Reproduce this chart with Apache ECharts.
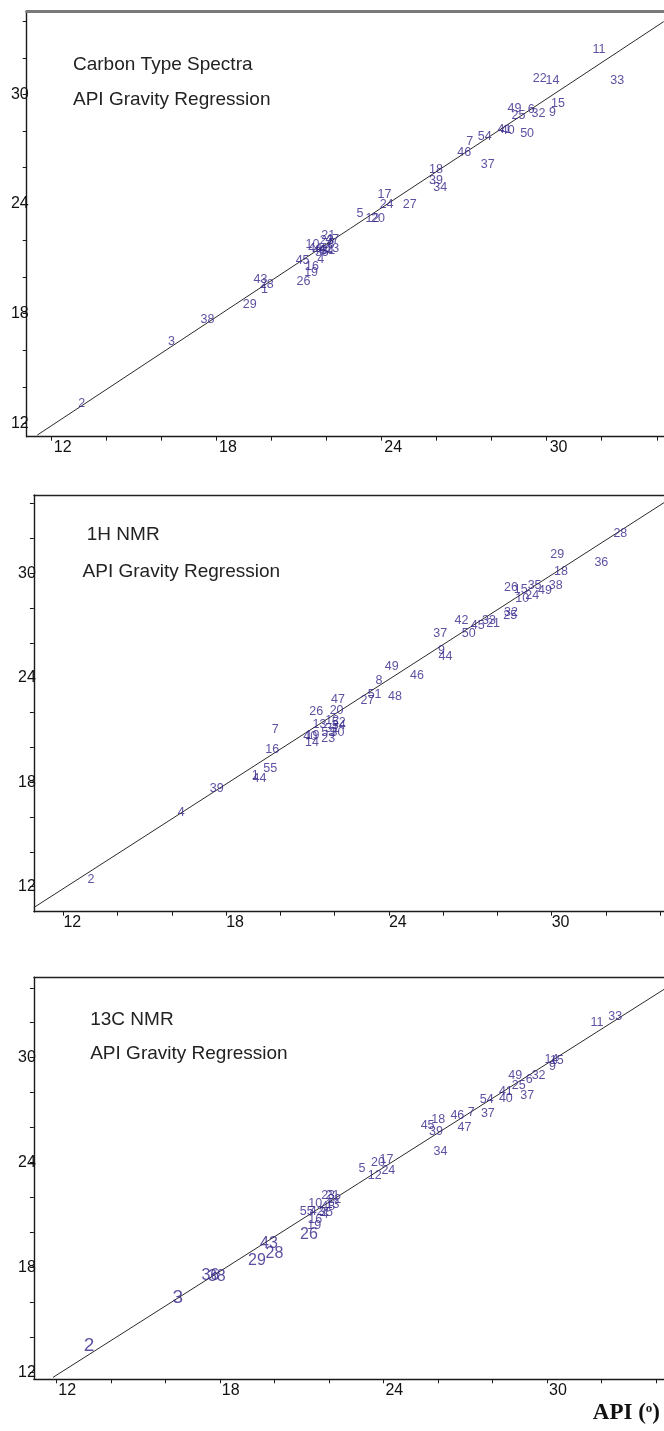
<!DOCTYPE html>
<html>
<head>
<meta charset="utf-8">
<script src="https://cdn.jsdelivr.net/npm/echarts@6/dist/echarts.min.js"></script>
<style>
html,body{margin:0;padding:0;background:#fff;}
#c{width:664px;height:1431px;}
</style>
</head>
<body>
<div id="c"></div>
<script>
// ---------- data ----------
const xTicks = [12,14,16,18,20,22,24,26,28,30,32,34];
const yTicks = [12,14,16,18,20,22,24,26,28,30,32,34];
const tickLabels = [12,18,24,30];

// Panel 1: Carbon Type Spectra
const p1Ids = ['11','22','14','33','15','49','6','25','32','9','41','40','50','7','54','46','37','18','39','34','17','24','27','5','12','20','21','10','23','47','44','48','42','13','35','31','8','45','4','16','19','26','43','28','1','29','38','3','2'];
const p1X = [31.90,29.75,30.21,32.56,30.41,28.83,29.44,28.98,29.70,30.21,28.47,28.59,29.29,27.21,27.75,27.01,27.86,25.98,25.98,26.14,24.11,24.19,25.03,23.22,23.68,23.88,22.07,21.50,22.02,22.22,21.60,21.76,21.99,22.22,21.84,22.07,22.17,21.14,21.80,21.48,21.45,21.17,19.61,19.84,19.76,19.22,17.69,16.38,13.12];
const p1Y = [32.43,30.84,30.78,30.78,29.47,29.22,29.18,28.83,28.96,29.00,28.05,28.00,27.87,27.41,27.68,26.81,26.17,25.86,25.28,24.89,24.53,23.98,23.98,23.49,23.18,23.18,22.30,21.79,21.98,22.03,21.58,21.48,21.52,21.58,21.36,21.45,21.76,20.88,20.97,20.57,20.24,19.75,19.88,19.62,19.30,18.48,17.66,16.47,13.06];
const p1LineX = [11.51, 34.25];
const p1LineY = [11.36, 33.98];

// Panel 2: 1H NMR
const p2Ids = ['28','29','36','18','26','15','35','38','49','24','10','32','25','42','33','21','45','37','50','9','44','49','46','8','51','27','48','47','26','20','7','13','12','52','34','31','53','30','23','40','19','14','16','55','1','44','39','4','2'];
const p2X = [32.53,30.20,31.83,30.34,28.50,28.86,29.37,30.15,29.75,29.28,28.91,28.50,28.47,26.67,27.69,27.84,27.27,25.89,26.94,25.94,26.08,24.10,25.03,23.63,23.47,23.21,24.22,22.12,21.32,22.07,19.81,21.44,21.91,22.15,22.15,21.91,21.76,22.10,21.76,21.10,21.18,21.16,19.70,19.62,19.07,19.23,17.65,16.34,13.01];
const p2Y = [32.30,31.07,30.61,30.10,29.18,29.04,29.31,29.27,29.00,28.72,28.56,27.76,27.55,27.28,27.28,27.09,26.99,26.52,26.52,25.56,25.21,24.64,24.12,23.83,23.05,22.69,22.92,22.76,22.05,22.11,21.04,21.33,21.54,21.44,21.23,21.10,20.87,20.85,20.52,20.62,20.66,20.29,19.89,18.80,18.36,18.23,17.65,16.27,12.39];
const p2LineX = [10.91, 34.14];
const p2LineY = [10.80, 34.06];

// Panel 3: 13C NMR
const p3Ids = ['33','11','14','15','9','49','32','6','25','41','40','37','54','7','37','46','18','47','45','39','34','17','20','24','5','12','23','21','10','22','13','48','55','42','35','4','16','19','26','43','28','29','36','38','3','2'];
const p3X = [32.50,31.83,30.16,30.36,30.20,28.83,29.69,29.35,28.96,28.49,28.49,29.27,27.79,27.22,27.83,26.71,26.01,26.97,25.62,25.93,26.09,24.11,23.80,24.18,23.21,23.68,21.97,22.13,21.50,22.20,22.13,21.97,21.19,21.55,21.89,21.86,21.50,21.46,21.27,19.80,20.00,19.36,17.65,17.89,16.46,13.20];
const p3Y = [32.38,32.02,29.92,29.81,29.52,28.97,28.97,28.76,28.38,28.09,27.67,27.86,27.58,26.85,26.78,26.68,26.49,26.00,26.09,25.77,24.62,24.15,24.01,23.54,23.67,23.25,22.14,22.14,21.67,21.86,21.61,21.48,21.19,21.19,21.13,21.00,20.75,20.39,19.86,19.38,18.81,18.42,17.51,17.47,16.29,13.50];
const p3Big = ['26','43','28','29','36','38'];
const p3Huge = ['3','2'];
const p3LineX = [11.88, 34.29];
const p3LineY = [11.71, 33.91];

// ---------- layout ----------
const FONT = 'Liberation Sans, Arial, Helvetica, sans-serif';
const labelColor = '#33258a';
const panels = [
  {left:26.7, top:11,    width:637.3, height:425.7, xmin:11.125, xmax:34.26, ymin:11.27, ymax:34.56, topColor:'#7a7a7a', topWidth:3, xPad:3},
  {left:33.9, top:495,   width:630.1, height:416.7, xmin:10.91,  xmax:34.14, ymin:10.56, ymax:34.50, topColor:'#222', topWidth:1.3, xPad:0},
  {left:33.9, top:977.3, width:630.1, height:402,   xmin:11.18,  xmax:34.29, ymin:11.60, ymax:34.60, topColor:'#222', topWidth:1.3, xPad:2}
];

const grids = [], xAxes = [], yAxes = [];
panels.forEach((p, i) => {
  grids.push({left:p.left, top:p.top, width:p.width, height:p.height, containLabel:false});
  xAxes.push({
    type:'value', gridIndex:i, min:p.xmin, max:p.xmax, position:'bottom',
    axisLine:{show:true, onZero:false, lineStyle:{color:'#1a1a1a', width:1.4}},
    axisTick:{show:true, length:4, customValues:xTicks, lineStyle:{color:'#1a1a1a', width:1}},
    axisLabel:{show:true, customValues:tickLabels, align:'left', margin:3, padding:[0,0,0,p.xPad],
      fontFamily:FONT, fontSize:16, color:'#111'},
    splitLine:{show:false}
  });
  xAxes.push({
    type:'value', gridIndex:i, min:p.xmin, max:p.xmax, position:'top',
    axisLine:{show:true, onZero:false, lineStyle:{color:p.topColor, width:p.topWidth}},
    axisTick:{show:false}, axisLabel:{show:false}, splitLine:{show:false}
  });
  yAxes.push({
    type:'value', gridIndex:i, min:p.ymin, max:p.ymax,
    axisLine:{show:true, onZero:false, lineStyle:{color:'#1a1a1a', width:1.4}},
    axisTick:{show:true, length:4, customValues:yTicks, lineStyle:{color:'#1a1a1a', width:1}},
    axisLabel:{show:true, customValues:tickLabels, margin:-2,
      fontFamily:FONT, fontSize:16, color:'#111'},
    splitLine:{show:false}
  });
});

function pts(ids, xs, ys, sizeFn) {
  return ids.map((id, k) => {
    const o = {name:id, value:[xs[k], ys[k]]};
    const fs = sizeFn ? sizeFn(id) : null;
    if (fs) o.label = {fontSize:fs};
    return o;
  });
}
function lineData(xs, ys) { return xs.map((x, k) => [x, ys[k]]); }

const labelStyle = {show:true, position:'inside', formatter:'{b}', color:labelColor, fontFamily:FONT, fontSize:12.5};

const series = [];
const sets = [
  {ids:p1Ids, xs:p1X, ys:p1Y, lx:p1LineX, ly:p1LineY, size:null},
  {ids:p2Ids, xs:p2X, ys:p2Y, lx:p2LineX, ly:p2LineY, size:null},
  {ids:p3Ids, xs:p3X, ys:p3Y, lx:p3LineX, ly:p3LineY,
   size:(id) => p3Huge.includes(id) ? 19 : (p3Big.includes(id) ? 16 : null)}
];
sets.forEach((s, i) => {
  series.push({
    type:'line', xAxisIndex:i*2, yAxisIndex:i, data:lineData(s.lx, s.ly),
    symbol:'none', silent:true, lineStyle:{color:'#2a2a2a', width:1}, z:1
  });
  series.push({
    type:'scatter', xAxisIndex:i*2, yAxisIndex:i, symbolSize:0,
    data:pts(s.ids, s.xs, s.ys, s.size), label:labelStyle, z:3
  });
});

const textStyle = {fill:'#222', font:'19px ' + FONT, textVerticalAlign:'middle'};
const graphic = [
  {type:'text', left:73,   top:55,   style:Object.assign({text:'Carbon Type Spectra'}, textStyle)},
  {type:'text', left:73,   top:90,   style:Object.assign({text:'API Gravity Regression'}, textStyle)},
  {type:'text', left:86.8, top:525,  style:Object.assign({text:'1H NMR'}, textStyle)},
  {type:'text', left:82.6, top:562,  style:Object.assign({text:'API Gravity Regression'}, textStyle)},
  {type:'text', left:90.2, top:1010, style:Object.assign({text:'13C NMR'}, textStyle)},
  {type:'text', left:90.2, top:1044, style:Object.assign({text:'API Gravity Regression'}, textStyle)},
  {type:'text', right:4, top:1402, style:{
    text:'{a|API (}{s|o}{a|)}',
    rich:{
      a:{fontFamily:'Liberation Serif, Times New Roman, serif', fontWeight:'bold', fontSize:23, fill:'#111', verticalAlign:'bottom'},
      s:{fontFamily:'Liberation Serif, Times New Roman, serif', fontWeight:'bold', fontSize:13, fill:'#111', verticalAlign:'top', padding:[0,0,10,0]}
    }
  }}
];

const chart = echarts.init(document.getElementById('c'), null, {renderer:'canvas'});
chart.setOption({
  animation:false,
  backgroundColor:'#fff',
  grid:grids, xAxis:xAxes, yAxis:yAxes, series:series, graphic:graphic
});
</script>
</body>
</html>
